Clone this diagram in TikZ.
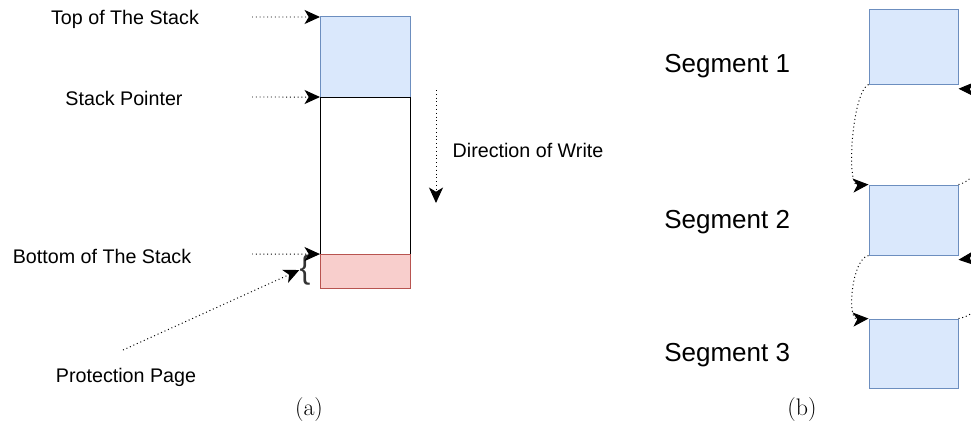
\documentclass[tikz,border=0pt]{standalone}
\usepackage{fontspec}
\newfontfamily\helv{Liberation Sans}
\usetikzlibrary{arrows.meta,positioning}
\definecolor{pagefill}{HTML}{DAE8FC}
\definecolor{pageline}{HTML}{6C8EBF}
\definecolor{guardfill}{HTML}{F8CECC}
\definecolor{guardline}{HTML}{B85450}

\begin{document}
\begin{tikzpicture}[
      x=0.025cm, y=-0.025cm,
      blk/.style={draw, line width=0.7pt, inner sep=0pt, outer sep=0pt, minimum width=2.25cm},
      seg/.style={draw=pageline, fill=pagefill, line width=0.7pt, inner sep=0pt, minimum width=2.225cm},
      lab/.style={font=\helv\fontsize{14}{16}\selectfont, inner sep=0pt},
      seglab/.style={font=\helv\fontsize{18.5}{21}\selectfont, inner sep=0pt, anchor=west},
      ptr/.style={-{Stealth[length=11pt,width=10pt,inset=3pt]}, dotted, line width=0.7pt}]
    \clip (0,0) rectangle (971,428);

    % (a) stack with guard page
    \node[blk, draw=pageline, fill=pagefill, minimum height=2cm] (top) at (365,57) {};
    \node[blk, minimum height=3.925cm, below=0pt of top] (free) {};
    \node[blk, draw=guardline, fill=guardfill, minimum height=0.85cm, below=0pt of free] (guard) {};
    \node[font=\helv\fontsize{23}{26}\selectfont, text=black!80, inner sep=0pt] (brace) at (305,270) {\{};

    \node[lab] (ltop) at (125,19) {Top of The Stack};
    \node[lab] (lsp) at (124,98) {Stack Pointer};
    \node[lab] (lbot) at (102,256) {Bottom of The Stack};
    \node[lab] (lprot) at (126,377) {Protection Page};
    \node[lab] (ldir) at (528,150) {Direction of Write};

    \coordinate (ptop) at (252,17);
    \coordinate (psp) at (252,97);
    \coordinate (pbot) at (252,254);
    \coordinate (pprot) at (123,350);
    \coordinate (dirstart) at (436,90);
    \coordinate (dirend) at (436,203);

    \draw[ptr] (ptop) -- (top.north west);
    \draw[ptr] (psp) -- (top.south west);
    \draw[ptr] (pbot) -- (free.south west);
    \draw[ptr] (pprot) -- (brace.west);
    \draw[ptr] (dirstart) -- (dirend);

    \node[font=\fontsize{17}{20}\selectfont] (capa) at (309,410) {(a)};

    % (b) linked segments
    \node[seg, minimum height=1.85cm] (s1) at (913.5,47) {};
    \node[seg, minimum height=1.75cm, below=2.5cm of s1] (s2) {};
    \node[seg, minimum height=1.725cm, below=1.575cm of s2] (s3) {};

    \node[seglab] (ls1) at (664,66) {Segment 1};
    \node[seglab] (ls2) at (664,222) {Segment 2};
    \node[seglab] (ls3) at (664,355) {Segment 3};

    \draw[ptr] (s1.south west) .. controls (852,92) and (846,186) .. (s2.north west);
    \draw[ptr] (s2.south west) .. controls (852,258) and (846,320) .. (s3.north west);
    \draw[ptr] (s2.north east) .. controls (995,176) and (995,90) .. ([yshift=-3]s1.south east);
    \draw[ptr] (s3.north east) .. controls (995,312) and (995,256) .. ([yshift=-3]s2.south east);

    \node[font=\fontsize{17}{20}\selectfont] (capb) at (802,410) {(b)};
\end{tikzpicture}
\end{document}
